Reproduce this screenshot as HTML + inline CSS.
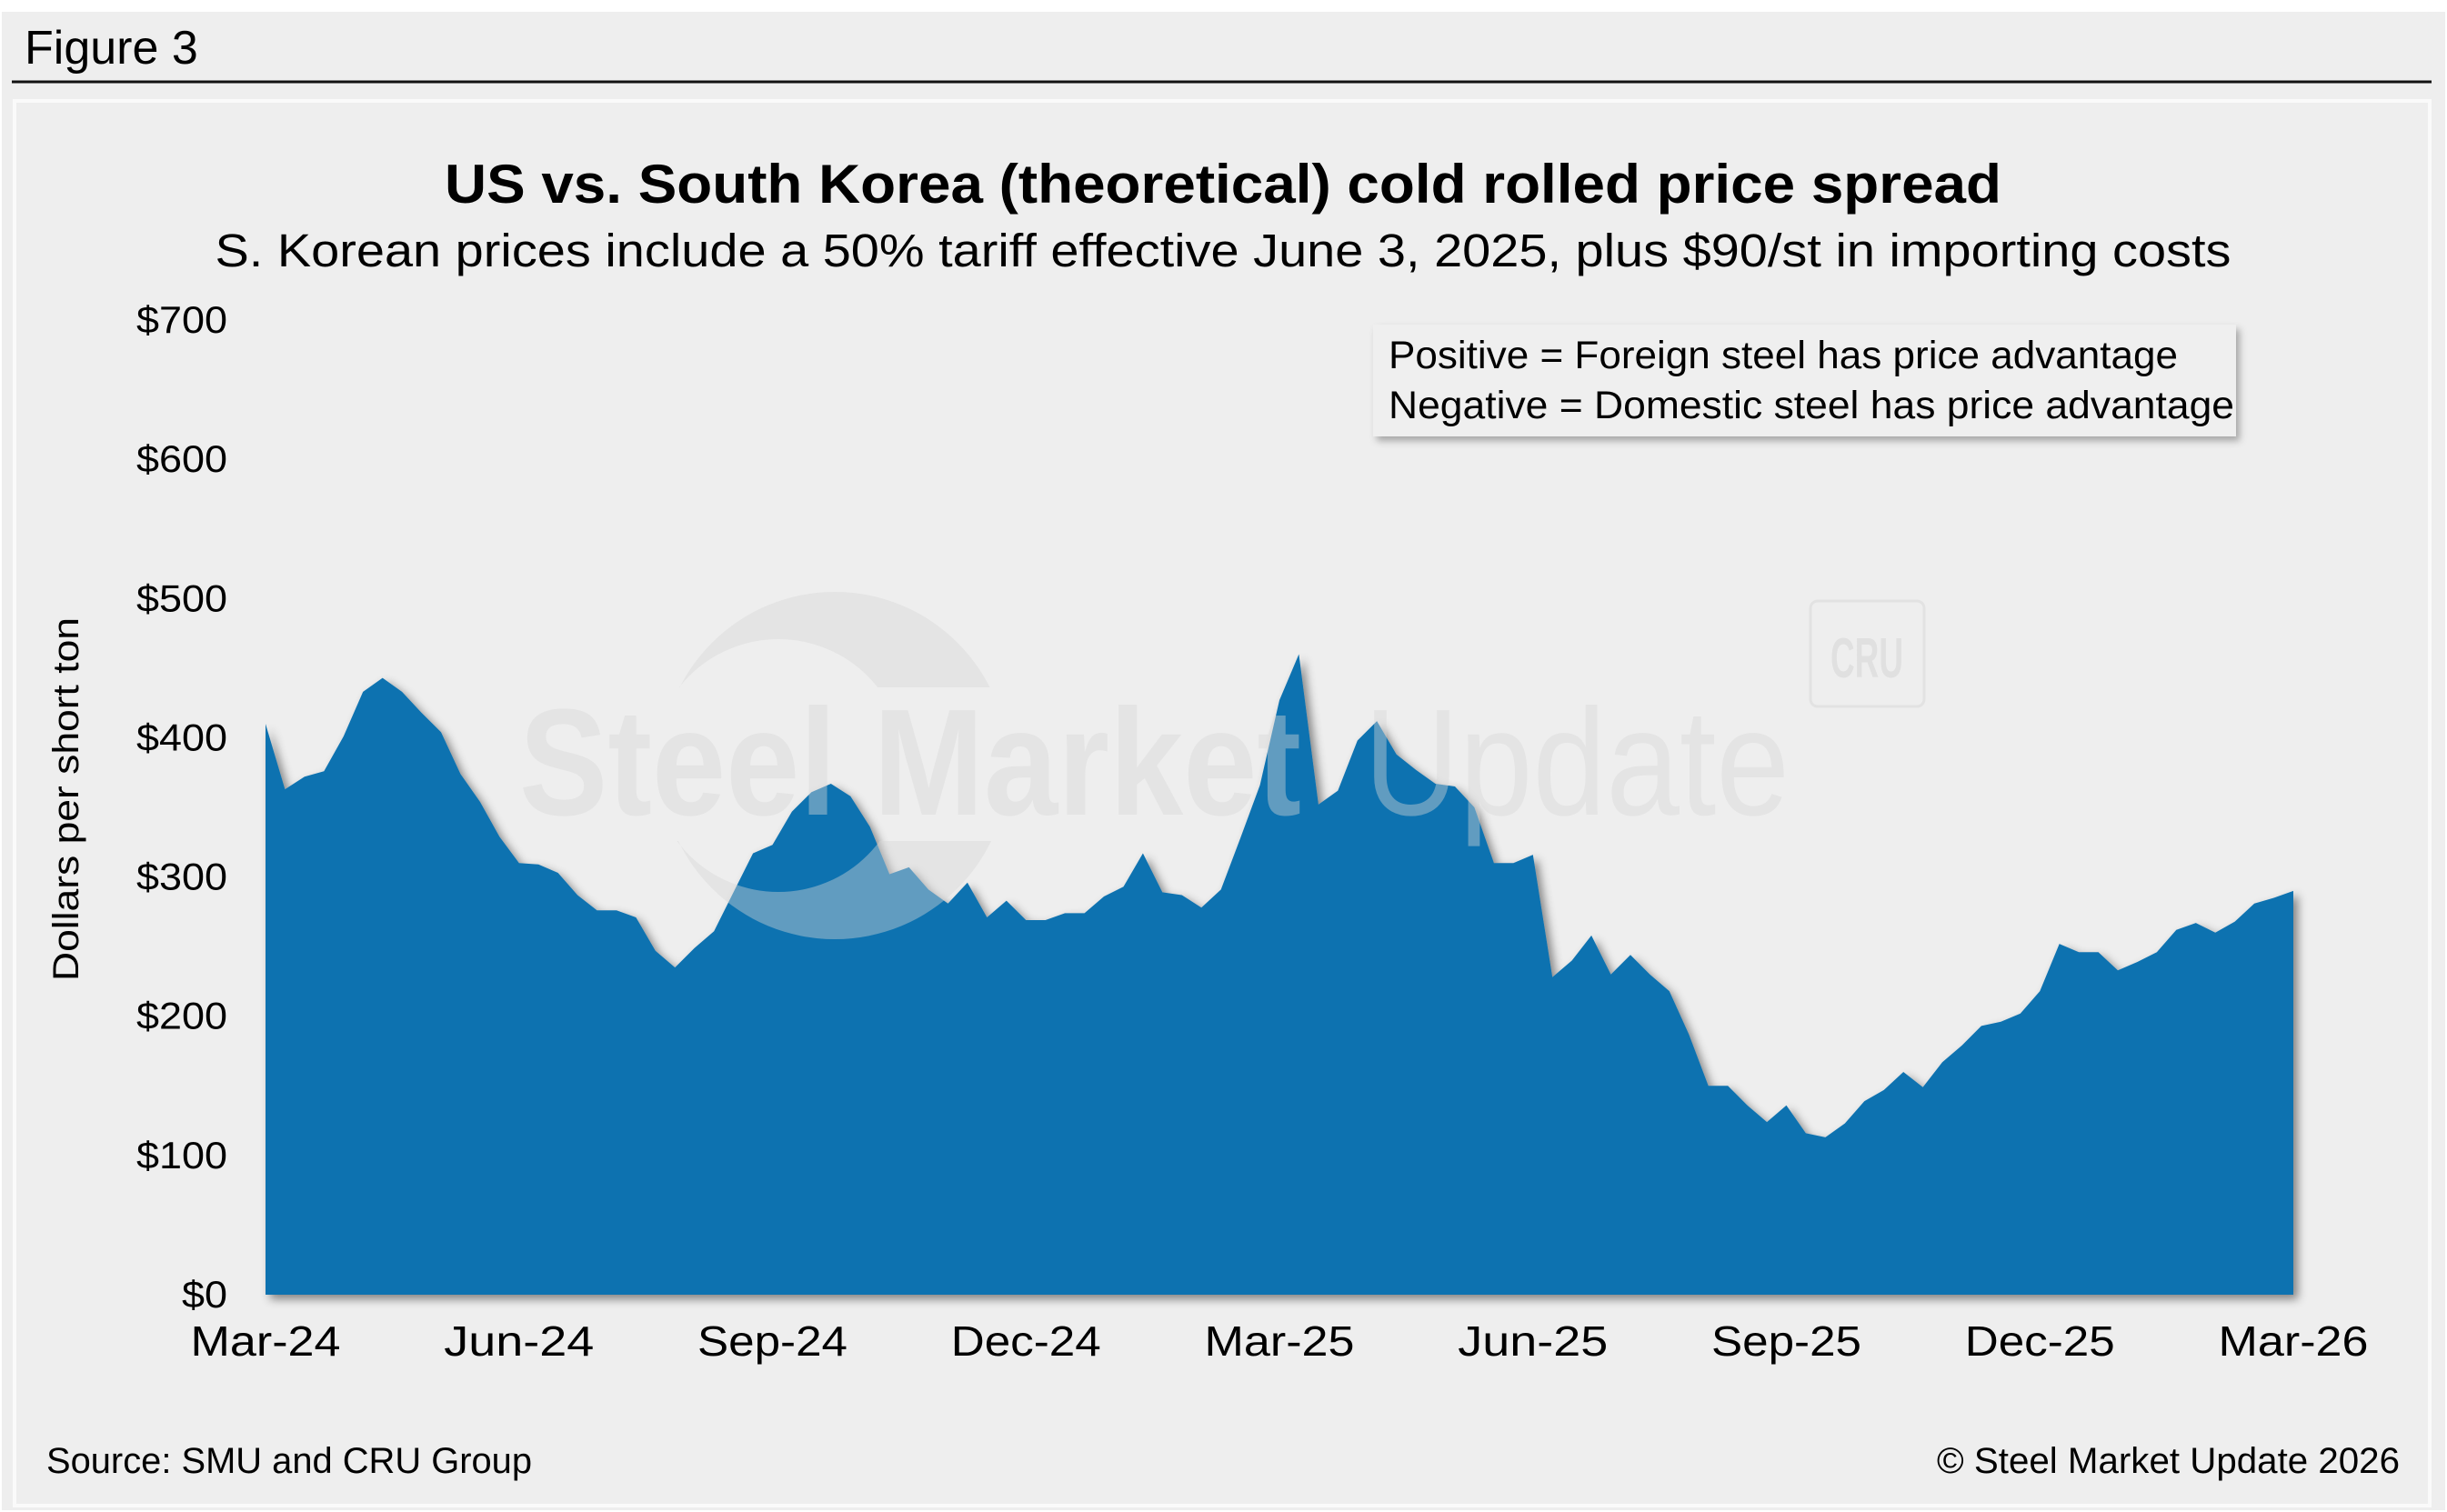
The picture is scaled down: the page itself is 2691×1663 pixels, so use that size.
<!DOCTYPE html>
<html><head><meta charset="utf-8"><style>
html,body{margin:0;padding:0;background:#fff;}
svg{display:block;font-family:"Liberation Sans",Arial,sans-serif;}
</style></head><body>
<svg id="chart" width="2691" height="1663" viewBox="0 0 2691 1663" xmlns="http://www.w3.org/2000/svg">
<defs>
<filter id="sh" x="-5%" y="-5%" width="110%" height="110%"><feDropShadow dx="5" dy="5" stdDeviation="5" flood-color="#000" flood-opacity="0.45"/></filter>
<filter id="bs" x="-5%" y="-10%" width="110%" height="130%"><feDropShadow dx="4" dy="5" stdDeviation="4" flood-color="#000" flood-opacity="0.3"/></filter>
<clipPath id="ringclip"><rect x="600" y="600" width="700" height="156"/><rect x="600" y="925" width="700" height="200"/></clipPath>
</defs>
<rect x="2" y="13" width="2687" height="1648" fill="#eeeeee"/>
<text x="27" y="70" font-size="52" fill="#000">Figure 3</text>
<line x1="13" y1="90" x2="2674" y2="90" stroke="#111" stroke-width="3"/>
<rect x="16" y="111" width="2656" height="1545" fill="#eeeeee" stroke="#fafafa" stroke-width="4"/>
<text x="1345" y="223" font-size="60" font-weight="bold" text-anchor="middle" textLength="1712" lengthAdjust="spacingAndGlyphs">US vs. South Korea (theoretical) cold rolled price spread</text>
<text x="1345" y="293" font-size="51" text-anchor="middle" textLength="2217" lengthAdjust="spacingAndGlyphs">S. Korean prices include a 50% tariff effective June 3, 2025, plus $90/st in importing costs</text>
<rect x="1991" y="661" width="125" height="116" rx="8" fill="none" stroke="#e2e2e2" stroke-width="3"/>
<text x="2053" y="745" font-size="62" font-weight="bold" fill="#e0e0e0" text-anchor="middle" textLength="80" lengthAdjust="spacingAndGlyphs">CRU</text>
<g id="plot"></g>
<g fill="#d6d6d6" fill-opacity="0.42">
<path clip-path="url(#ringclip)" fill-rule="evenodd" d="M727,842 a191,191 0 1,0 382,0 a191,191 0 1,0 -382,0 Z M717,842 a139,139 0 1,0 278,0 a139,139 0 1,0 -278,0 Z"/>
<text x="571" y="896" font-size="167" font-weight="bold" textLength="860" lengthAdjust="spacingAndGlyphs">Steel Market</text>
<text x="1500" y="896" font-size="167" textLength="468" lengthAdjust="spacingAndGlyphs">Update</text>
</g>
<g id="yaxis"></g>
<g id="xaxis"></g>
<text transform="translate(86,879) rotate(-90)" font-size="40" text-anchor="middle" textLength="400" lengthAdjust="spacingAndGlyphs">Dollars per short ton</text>
<g>
<rect x="1510" y="357" width="949" height="123" fill="#efefef" filter="url(#bs)"/>
<text x="1527" y="405" font-size="43" textLength="868" lengthAdjust="spacingAndGlyphs">Positive = Foreign steel has price advantage</text>
<text x="1527" y="460" font-size="43" textLength="930" lengthAdjust="spacingAndGlyphs">Negative = Domestic steel has price advantage</text>
</g>
<text x="51" y="1620" font-size="40" textLength="534" lengthAdjust="spacingAndGlyphs">Source: SMU and CRU Group</text>
<text x="2639" y="1620" font-size="40" text-anchor="end" textLength="509" lengthAdjust="spacingAndGlyphs">© Steel Market Update 2026</text>
</svg>
<script>
const spread = [410,363,372,376,401,433,443,433,418,404,374,354,329,310,309,303,287,276,276,271,247,235,249,261,289,317,323,347,361,367,358,336,302,307,291,281,296,271,283,269,269,274,274,286,293,317,289,287,278,291,328,366,427,460,352,362,398,412,388,377,367,365,350,310,310,316,228,240,258,230,244,230,218,187,150,150,136,124,136,116,113,123,139,147,160,149,167,179,193,196,202,218,252,246,246,233,239,246,262,267,260,268,281,285,290];
const yTicks = [0,100,200,300,400,500,600,700];
const xLabels = ["Mar-24","Jun-24","Sep-24","Dec-24","Mar-25","Jun-25","Sep-25","Dec-25","Mar-26"];
const xLabelWeeks = [0,13,26,39,52,65,78,91,104];

const NS="http://www.w3.org/2000/svg";
const X0=292,X1=2522,Y0=1424,Y1=352,YMAX=700;
const xs=i=>X0+(X1-X0)*i/(spread.length-1);
const ys=v=>Y0-(Y0-Y1)*v/YMAX;
const plot=document.getElementById('plot');
let d=`M${xs(0)},${Y0}`;
spread.forEach((v,i)=>{d+=` L${xs(i).toFixed(1)},${ys(v).toFixed(1)}`;});
d+=` L${xs(spread.length-1)},${Y0} Z`;
const area=document.createElementNS(NS,'path');
area.setAttribute('d',d);
area.setAttribute('fill','#1172b0');
area.setAttribute('filter','url(#sh)');


plot.appendChild(area);

const ya=document.getElementById('yaxis');
yTicks.forEach(t=>{
  const tx=document.createElementNS(NS,'text');
  tx.setAttribute('x',250);tx.setAttribute('y',ys(t)+14);
  tx.setAttribute('font-size','42');tx.setAttribute('text-anchor','end');
  tx.setAttribute('textLength',String(t)==='0'?'50':'100');
  tx.setAttribute('lengthAdjust','spacingAndGlyphs');
  tx.textContent='$'+t;
  
  
  ya.appendChild(tx);
});
const xa=document.getElementById('xaxis');
xLabels.forEach((l,k)=>{
  const tx=document.createElementNS(NS,'text');
  tx.setAttribute('x',xs(xLabelWeeks[k]));tx.setAttribute('y',1491);
  tx.setAttribute('font-size','46');tx.setAttribute('text-anchor','middle');
  tx.setAttribute('textLength','165');tx.setAttribute('lengthAdjust','spacingAndGlyphs');
  tx.textContent=l;
  
  
  xa.appendChild(tx);
});
</script>
</body></html>
